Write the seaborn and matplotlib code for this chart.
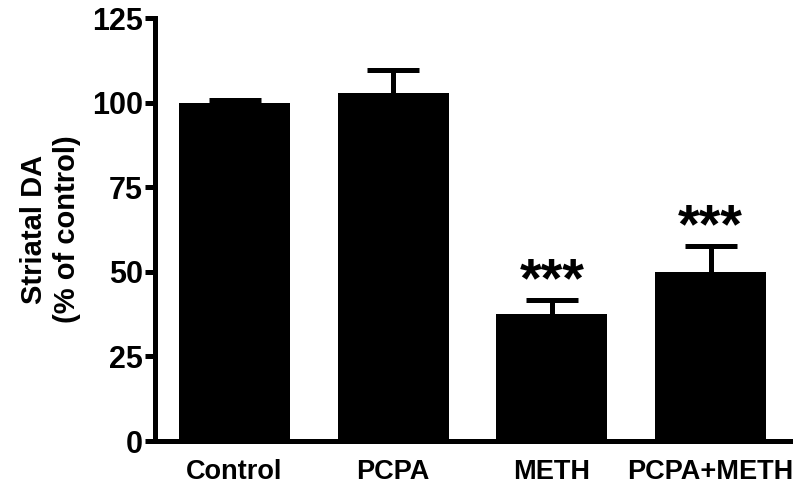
import numpy as np
import matplotlib
matplotlib.use("Agg")
import matplotlib.pyplot as plt
import seaborn as sns

groups = ["Control", "PCPA", "METH", "PCPA+METH"]
means = [100.0, 102.8, 37.6, 50.0]
sem = [0.9, 6.9, 4.1, 7.6]
stars = ["", "", "***", "***"]
yticks = [0, 25, 50, 75, 100, 125]

sns.set_style("ticks")
plt.rcParams["font.family"] = ["Liberation Sans", "DejaVu Sans"]
plt.rcParams["font.weight"] = "bold"
for k in ["text.color", "axes.labelcolor", "xtick.color", "ytick.color",
          "axes.edgecolor"]:
    plt.rcParams[k] = "black"

fig = plt.figure(figsize=(8, 4.9), dpi=100)
ax = fig.add_axes([0.194, 0.1, 0.7935, 0.863])

sns.barplot(x=groups, y=means, color="black", width=0.7, saturation=1,
            errorbar=None, ax=ax, zorder=3, edgecolor="black", linewidth=0)
xpos = np.arange(len(groups))
eb = ax.errorbar(xpos, means, yerr=[np.zeros(len(sem)), sem], fmt="none",
                 ecolor="black", elinewidth=3.6, capsize=19, capthick=3.6,
                 zorder=2)
# only the upper cap is shown
eb[1][0].set_visible(False)

for i, s in enumerate(stars):
    if s:
        ax.text(xpos[i], means[i] + sem[i] + 1, s, ha="center", va="baseline",
                fontsize=40, fontweight="bold", color="black")

ax.set_xlim(-0.5, 3.5)
ax.set_ylim(0, 125)
ax.set_yticks(yticks)
ax.set_ylabel("Striatal DA\n(% of control)", fontsize=21, fontweight="bold",
              labelpad=8)
sns.despine(ax=ax)
for sp in ["left", "bottom"]:
    ax.spines[sp].set_linewidth(3.6)
    ax.spines[sp].set_color("black")
ax.tick_params(axis="y", length=7, width=3.6, labelsize=22, pad=2,
               colors="black")
ax.tick_params(axis="x", length=0, labelsize=19.5, pad=13, colors="black")
for lab in ax.get_xticklabels() + ax.get_yticklabels():
    lab.set_fontweight("bold")

fig.savefig("out.png", dpi=100)
